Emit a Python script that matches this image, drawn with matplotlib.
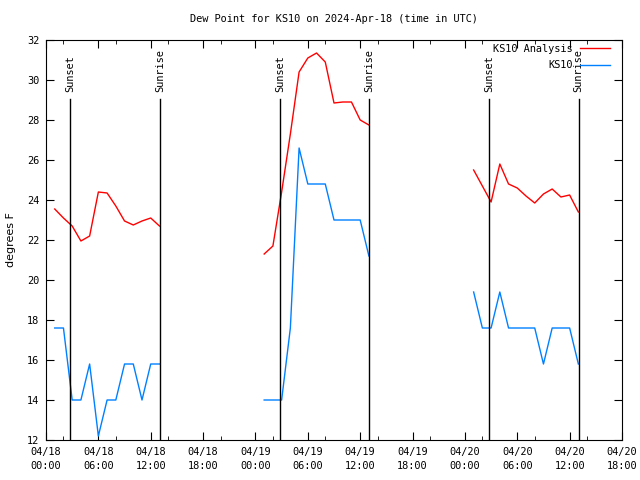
import numpy as np
import matplotlib
matplotlib.use("Agg")
import matplotlib.pyplot as plt
import matplotlib.dates as mdates
from datetime import datetime, timedelta

base = datetime(2024, 4, 18)

# hour offsets from 04/18 00:00 UTC, one block per night
hours = [
    [1, 2, 3, 4, 5, 6, 7, 8, 9, 10, 11, 12, 13],
    [25, 26, 27, 28, 29, 30, 31, 32, 33, 34, 35, 36, 37],
    [49, 50, 51, 52, 53, 54, 55, 56, 57, 58, 59, 60, 61],
]
analysis = [
    [23.55, 23.1, 22.7, 21.95, 22.2, 24.4, 24.35, 23.7, 22.95, 22.75, 22.95, 23.1, 22.7],
    [21.3, 21.7, 24.4, 27.3, 30.4, 31.1, 31.35, 30.9, 28.85, 28.9, 28.9, 28.0, 27.75],
    [25.5, 24.7, 23.9, 25.8, 24.8, 24.6, 24.2, 23.85, 24.3, 24.55, 24.15, 24.25, 23.4],
]
obs = [
    [17.6, 17.6, 14.0, 14.0, 15.8, 12.2, 14.0, 14.0, 15.8, 15.8, 14.0, 15.8, 15.8],
    [14.0, 14.0, 14.0, 17.6, 26.6, 24.8, 24.8, 24.8, 23.0, 23.0, 23.0, 23.0, 21.2],
    [19.4, 17.6, 17.6, 19.4, 17.6, 17.6, 17.6, 17.6, 15.8, 17.6, 17.6, 17.6, 15.8],
]
# sun events as (day, hh, mm)
sunsets = [(18, 2, 47), (19, 2, 48), (20, 2, 49)]
sunrises = [(18, 13, 6), (19, 13, 4), (20, 13, 2)]

mono = "DejaVu Sans Mono"
fs = 7.4
plt.rcParams["font.family"] = mono
plt.rcParams["font.size"] = fs

fig = plt.figure(figsize=(6.4, 4.8), dpi=100)
ax = fig.add_axes([46 / 640, 40 / 480, 576 / 640, 400 / 480])

red = "#ff0000"
blue = "#0080ff"
for i, (h, a, o) in enumerate(zip(hours, analysis, obs)):
    t = [base + timedelta(hours=x) for x in h]
    ax.plot(t, a, color=red, lw=1, label="KS10 Analysis" if i == 0 else None)
    ax.plot(t, o, color=blue, lw=1, label="KS10" if i == 0 else None)

for events, name in ((sunsets, "Sunset"), (sunrises, "Sunrise")):
    for d, hh, mm in events:
        t = datetime(2024, 4, d, hh, mm)
        ax.plot([t, t], [12, 29.05], color="black", lw=1)
        ax.text(t, 29.4, name, rotation=90, ha="center", va="bottom", fontsize=fs)

ax.set_xlim(base, base + timedelta(hours=66))
ax.set_ylim(12, 32)
ax.set_yticks(np.arange(12, 33, 2))
ax.xaxis.set_major_locator(mdates.HourLocator(byhour=[0, 6, 12, 18]))
ax.xaxis.set_minor_locator(mdates.HourLocator(byhour=[2, 8, 14, 20]))
ax.xaxis.set_major_formatter(mdates.DateFormatter("%m/%d\n%H:%M"))
ax.tick_params(which="both", direction="in", top=True, right=True, pad=5)
ax.tick_params(which="major", length=6)
ax.tick_params(which="minor", length=3)

ax.set_title("Dew Point for KS10 on 2024-Apr-18 (time in UTC)", fontsize=fs, pad=13)
ax.set_ylabel("degrees F", family="DejaVu Sans", fontsize=8, labelpad=8)

ax.legend(loc="upper right", bbox_to_anchor=(0.979, 0.99), frameon=False,
          markerfirst=False, handlelength=2.9, borderaxespad=0, borderpad=0,
          labelspacing=0.6, handletextpad=0.7, fontsize=fs)

fig.canvas.draw()
for tick in ax.xaxis.get_major_ticks():
    tick.label1.set_linespacing(1.45)

fig.savefig("out.png", dpi=100)
